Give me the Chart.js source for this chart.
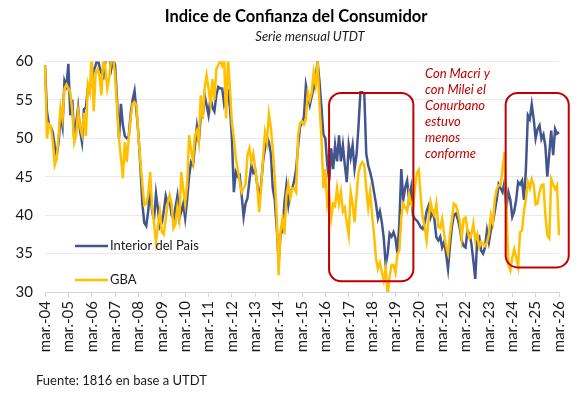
<!DOCTYPE html>
<html><head><meta charset="utf-8">
<script src="https://cdn.jsdelivr.net/npm/chart.js@4/dist/chart.umd.min.js"></script>
<style>html,body{margin:0;padding:0;background:#fff;}canvas{display:block;}</style>
</head><body>
<canvas id="c" width="586" height="397"></canvas>
<script>
// ---- Data ----
const tickLabels = ['mar.-04','mar.-05','mar.-06','mar.-07','mar.-08','mar.-09','mar.-10','mar.-11','mar.-12','mar.-13','mar.-14','mar.-15','mar.-16','mar.-17','mar.-18','mar.-19','mar.-20','mar.-21','mar.-22','mar.-23','mar.-24','mar.-25','mar.-26'];
const monthNames = ['mar.','abr.','may.','jun.','jul.','ago.','sep.','oct.','nov.','dic.','ene.','feb.'];
const yearCodes = ['04','05','06','07','08','09','10','11','12','13','14','15','16','17','18','19','20','21','22','23','24','25','26'];

// Interior del Pais (monthly, mar.-04 .. mar.-26)
const interior = [
 59.5,53.5,51.8,51.5,50.8,49.0,47.8,49.5,53.0,51.5,57.5,56.8,
 59.7,53.0,55.0,50.0,52.0,54.0,51.0,49.5,53.8,54.0,56.5,56.5,
 57.5,58.8,59.5,60.5,59.3,58.5,58.0,60.0,60.5,60.5,59.0,60.3,
 59.5,55.0,50.0,54.5,51.7,50.3,50.0,50.2,53.2,55.0,56.2,53.5,
 50.5,46.3,41.5,39.0,38.6,40.5,43.5,40.5,39.5,42.8,40.8,38.5,
 39.0,40.5,42.5,41.5,42.0,40.0,39.5,41.0,42.5,39.6,40.5,41.5,
 39.6,42.0,45.0,46.9,46.5,49.0,51.5,49.5,53.0,52.8,55.6,54.3,
 53.0,55.3,54.0,53.5,55.6,56.7,56.5,56.5,54.5,55.5,56.0,54.0,
 50.0,43.0,45.6,45.0,45.2,42.6,39.8,41.5,42.2,44.5,46.5,45.5,
 45.8,44.0,42.2,44.0,47.0,48.7,50.2,49.5,48.0,43.5,42.0,38.5,
 34.0,37.5,38.0,41.7,43.9,41.3,43.0,43.5,44.5,46.0,49.0,51.5,
 52.0,52.8,56.9,55.5,54.3,55.5,56.5,58.0,60.0,57.3,54.0,50.5,
 50.0,46.5,44.5,48.7,46.0,49.1,47.0,50.4,47.0,49.1,46.5,44.3,
 49.1,47.5,49.1,46.0,47.8,51.5,56.0,56.0,55.8,48.0,46.5,45.6,
 44.5,43.0,41.5,39.6,40.5,39.1,37.0,33.5,35.0,37.6,37.2,37.8,
 37.0,35.0,39.0,46.0,42.0,43.6,44.5,42.0,43.5,40.0,39.5,39.3,
 38.9,38.4,38.2,39.0,40.5,41.2,39.7,40.5,39.5,37.1,36.7,37.2,
 35.8,36.5,35.0,33.0,36.0,38.5,40.0,40.2,39.5,38.4,36.7,36.0,
 35.8,38.0,37.6,36.3,34.1,31.7,37.0,37.2,35.4,35.0,35.8,38.0,
 36.5,38.0,39.0,40.5,42.0,44.0,43.5,43.0,44.3,41.0,43.0,42.0,
 39.8,40.5,42.0,44.3,44.0,44.5,42.0,46.0,53.0,52.5,54.4,52.5,
 50.0,51.2,51.7,49.9,50.5,49.0,45.0,48.0,51.0,47.8,51.2,50.6,
 50.8
];

// GBA (monthly, mar.-04 .. mar.-26)
const gba = [
 59.5,50.0,51.8,51.5,49.5,46.5,47.3,50.5,54.0,52.5,56.5,57.0,
 56.5,56.0,53.5,49.5,50.5,53.5,51.5,50.5,53.3,50.3,57.0,56.0,
 61.0,53.5,58.5,59.0,58.2,55.6,61.0,59.0,56.5,58.0,60.5,60.5,
 58.2,54.0,50.0,47.5,44.8,49.5,46.9,50.0,52.6,54.5,54.7,54.3,
 50.2,47.0,44.0,41.3,41.5,42.6,45.6,41.0,39.0,36.5,38.5,40.5,
 37.8,37.5,39.5,41.5,42.6,41.5,38.3,38.8,41.0,39.5,45.6,43.5,
 41.5,44.0,50.4,48.5,47.0,50.4,51.0,49.5,55.6,52.5,56.5,58.2,
 56.5,54.5,57.7,55.0,59.0,59.5,60.3,59.5,60.5,52.6,60.5,56.5,
 52.0,50.0,47.4,46.0,44.3,43.0,43.5,44.0,47.8,48.7,47.0,48.0,
 46.0,44.0,40.4,43.5,47.5,50.8,49.5,53.2,51.5,48.5,45.0,40.0,
 32.2,38.0,39.6,37.5,42.6,44.0,42.2,43.5,43.5,43.0,50.4,52.0,
 52.2,51.8,52.5,56.0,55.0,56.0,58.6,57.0,60.0,54.3,50.0,43.5,
 46.0,41.3,42.5,39.6,41.5,41.2,43.5,41.5,43.0,40.5,41.0,39.0,
 37.4,43.0,41.5,39.1,42.5,45.5,46.5,46.9,46.5,43.5,41.0,43.0,
 40.0,37.5,34.4,33.0,33.8,32.6,31.5,33.0,29.6,32.0,33.5,33.5,
 32.5,35.0,35.4,39.7,41.5,41.0,40.5,42.7,41.5,41.0,43.6,45.5,
 45.9,42.3,39.7,38.5,36.7,39.5,41.7,40.5,40.0,41.5,38.5,38.3,
 39.5,37.5,36.0,35.0,37.5,39.5,41.5,41.3,40.5,39.3,37.0,39.5,
 39.7,38.0,37.0,37.5,38.9,36.7,37.5,35.8,36.5,36.3,36.0,36.5,
 37.5,40.0,39.0,42.0,43.4,43.9,43.9,46.0,48.2,41.0,33.5,32.8,
 34.5,35.6,34.5,33.3,37.8,38.0,40.5,42.1,44.3,43.5,44.7,44.0,
 41.4,41.5,43.0,43.9,44.0,40.0,37.4,37.0,44.7,44.0,43.4,43.9,
 37.4
];

// Category labels (one per month)
const categories = [];
for (let i = 0; i < interior.length; i++) {
  const mi = i % 12;
  const yi = Math.floor(i / 12) + (mi >= 10 ? 1 : 0);
  categories.push(monthNames[mi] + '-' + yearCodes[yi]);
}

// Annotation boxes in data units (category index / value)
const boxes = [
  {x0: 145.9, x1: 189.2, y0: 31.4, y1: 55.9},
  {x0: 236.6, x1: 269.0, y0: 33.2, y1: 55.9}
];
const noteLines = ['Con Macri y','con Milei el','Conurbano','estuvo','menos','conforme'];

const BLUE = '#42558F';
const GOLD = '#FFC000';
const TXT = '#1a1a1a';
const FONT = 'Lato';

const overlay = {
  id: 'overlay',
  afterDatasetsDraw(chart) {
    const ctx = chart.ctx;
    const xs = chart.scales.x, ys = chart.scales.y;
    ctx.save();
    ctx.strokeStyle = '#C00000';
    ctx.lineWidth = 2;
    boxes.forEach(b => {
      const l = xs.getPixelForValue(b.x0), r = xs.getPixelForValue(b.x1);
      const t = ys.getPixelForValue(b.y1), bt = ys.getPixelForValue(b.y0);
      ctx.beginPath();
      ctx.roundRect(l, t, r - l, bt - t, 12);
      ctx.stroke();
    });
    ctx.restore();
  },
  afterDraw(chart) {
    const ctx = chart.ctx;
    ctx.save();
    ctx.textBaseline = 'middle';
    ctx.fillStyle = '#000';
    ctx.textAlign = 'center';
    ctx.font = 'bold 16.5px ' + FONT;
    ctx.fillText('Indice de Confianza del Consumidor', 296, 17);
    ctx.font = 'italic 13px ' + FONT;
    ctx.fillStyle = TXT;
    ctx.fillText('Serie mensual UTDT', 310, 37);
    ctx.textAlign = 'left';
    ctx.fillStyle = '#C00000';
    ctx.font = 'italic 13px ' + FONT;
    noteLines.forEach((s, i) => ctx.fillText(s, 425, 74 + i * 16));
    const leg = [[BLUE, 'Interior del Pais', 246], [GOLD, 'GBA', 280]];
    leg.forEach(([c, t, y]) => {
      ctx.strokeStyle = c; ctx.lineWidth = 2.5;
      ctx.beginPath(); ctx.moveTo(75, y); ctx.lineTo(108, y); ctx.stroke();
      ctx.fillStyle = TXT; ctx.font = '13px ' + FONT;
      ctx.fillText(t, 110, y);
    });
    ctx.fillStyle = TXT;
    ctx.font = '13px ' + FONT;
    ctx.fillText('Fuente: 1816 en base a UTDT', 36, 381);
    ctx.restore();
  }
};

new Chart(document.getElementById('c'), {
  type: 'line',
  data: {
    labels: categories,
    datasets: [
      {label: 'GBA', data: gba, borderColor: GOLD, backgroundColor: GOLD, borderWidth: 2.5, pointRadius: 0, tension: 0, order: 0},
      {label: 'Interior del Pais', data: interior, borderColor: BLUE, backgroundColor: BLUE, borderWidth: 2.5, pointRadius: 0, tension: 0, order: 1}
    ]
  },
  options: {
    responsive: false,
    animation: false,
    devicePixelRatio: 1,
    layout: {padding: {left: 0, right: 27, top: 61.5, bottom: 0}},
    plugins: {legend: {display: false}, tooltip: {enabled: false}, title: {display: false}},
    scales: {
      x: {
        type: 'category',
        offset: false,
        grid: {drawOnChartArea: false, drawTicks: true, tickLength: 5,
               tickColor: (c) => (c.index % 12 === 0 ? '#CED2DE' : 'rgba(0,0,0,0)'),
               color: 'rgba(0,0,0,0)'},
        border: {display: true, color: '#D3D6E0', width: 1},
        ticks: {autoSkip: false, maxRotation: 90, minRotation: 90, padding: 4,
                font: {family: FONT, size: 15}, color: TXT,
                callback: (v, i) => (i % 12 === 0 ? tickLabels[i / 12] : '')},
        afterFit: (s) => { s.height = 105; }
      },
      y: {
        min: 30, max: 60,
        ticks: {stepSize: 5, padding: 12, font: {family: FONT, size: 15}, color: TXT},
        grid: {color: '#E9E9E9', drawTicks: false},
        border: {display: false},
        afterFit: (s) => { s.width = 45; }
      }
    }
  },
  plugins: [overlay]
});
</script>
</body></html>
